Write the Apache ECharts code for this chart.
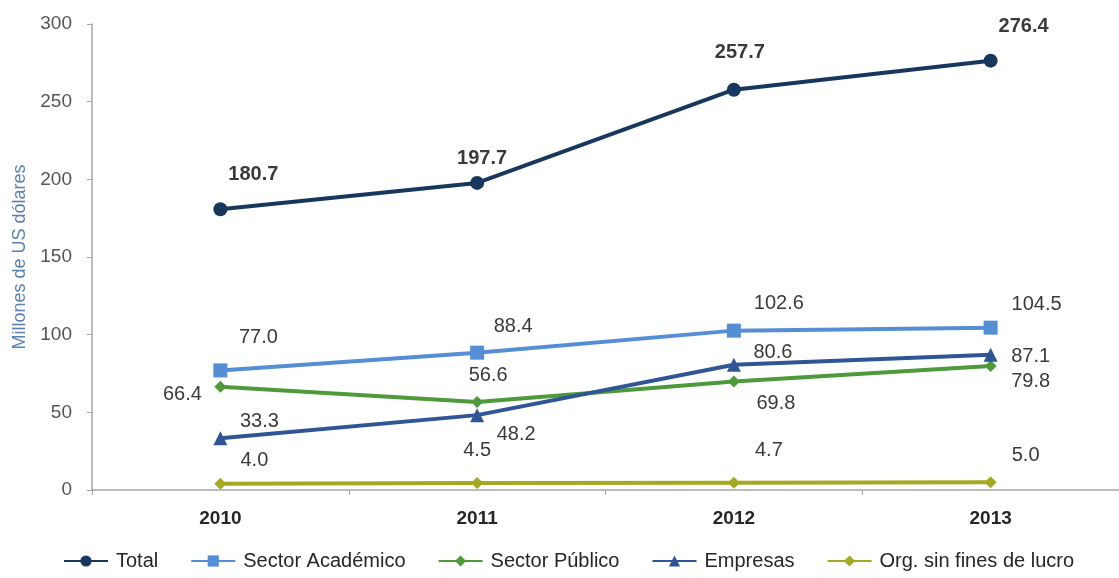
<!DOCTYPE html>
<html>
<head>
<meta charset="utf-8">
<script src="https://cdn.jsdelivr.net/npm/echarts@6/dist/echarts.min.js"></script>
<style>
  html, body { margin: 0; padding: 0; background: #fff; }
  #chart { width: 1119px; height: 578px; }
</style>
</head>
<body>
<div id="chart"></div>
<script>
  // datos del gráfico
  const years = ['2010', '2011', '2012', '2013'];
  const total = [180.7, 197.7, 257.7, 276.4];
  const academico = [77.0, 88.4, 102.6, 104.5];
  const publico = [66.4, 56.6, 69.8, 79.8];
  const empresas = [33.3, 48.2, 80.6, 87.1];
  const sinFines = [4.0, 4.5, 4.7, 5.0];
  const seriesNames = ['Total', 'Sector Académico', 'Sector Público', 'Empresas', 'Org. sin fines de lucro'];

  const font = '"Liberation Sans", Arial, sans-serif';

  // etiqueta por punto (desplazamiento en px respecto al marcador)
  function labeled(values, offsets, bold) {
    return values.map((v, i) => ({
      value: v,
      label: {
        show: true,
        position: 'inside',
        offset: offsets[i],
        formatter: v.toFixed(1),
        fontFamily: font,
        fontSize: 20,
        fontWeight: bold ? 'bold' : 'normal',
        color: '#3a3a3a'
      }
    }));
  }

  function line(name, values, color, symbol, size, offsets, bold) {
    return {
      name: name,
      type: 'line',
      data: labeled(values, offsets, bold),
      symbol: symbol,
      symbolSize: size,
      lineStyle: { color: color, width: 4 },
      itemStyle: { color: color },
      z: 2
    };
  }

  const option = {
    animation: false,
    grid: { left: 92, right: -2, top: 24, bottom: 88, containLabel: false },
    legend: {
      bottom: 2,
      left: 58,
      itemWidth: 44,
      itemHeight: 14,
      itemGap: 32,
      data: seriesNames,
      textStyle: { fontFamily: font, fontSize: 20, color: '#262626', padding: [0, 0, 0, 3] }
    },
    xAxis: {
      type: 'category',
      data: years,
      boundaryGap: true,
      axisLine: { lineStyle: { color: '#a6a6a6', width: 1.5 } },
      axisTick: { show: true, lineStyle: { color: '#a6a6a6' }, length: 5 },
      axisLabel: { fontFamily: font, fontSize: 19, fontWeight: 'bold', color: '#262626', margin: 19 }
    },
    yAxis: {
      type: 'value',
      min: 0,
      max: 300,
      interval: 50,
      name: 'Millones de US dólares',
      nameLocation: 'middle',
      nameGap: 62,
      nameTextStyle: { fontFamily: font, fontSize: 18, color: '#5b7fb3' },
      splitLine: { show: false },
      axisLine: { show: true, lineStyle: { color: '#a6a6a6', width: 1.5 } },
      axisTick: { show: true, length: 5, lineStyle: { color: '#a6a6a6' } },
      axisLabel: { fontFamily: font, fontSize: 19, color: '#555555', margin: 20 }
    },
    series: [
      line(seriesNames[0], total, '#17375e', 'circle', 14,
        [[33, -35], [5, -24], [6, -37], [33, -34]], true),
      line(seriesNames[1], academico, '#558ed5', 'rect', 14,
        [[38, -33], [36, -26], [45, -27], [46, -23]]),
      line(seriesNames[2], publico, '#4e9a3a', 'diamond', 12,
        [[-38, 8], [11, -27], [42, 22], [40, 15]]),
      line(seriesNames[3], empresas, '#2f5597', 'triangle', 14,
        [[39, -17], [39, 19], [39, -12], [40, 2]]),
      line(seriesNames[4], sinFines, '#a5a821', 'diamond', 12,
        [[34, -23], [0, -33], [35, -32], [35, -27]])
    ]
  };

  const chartObj = echarts.init(document.getElementById('chart'));
  chartObj.setOption(option);
</script>
</body>
</html>
